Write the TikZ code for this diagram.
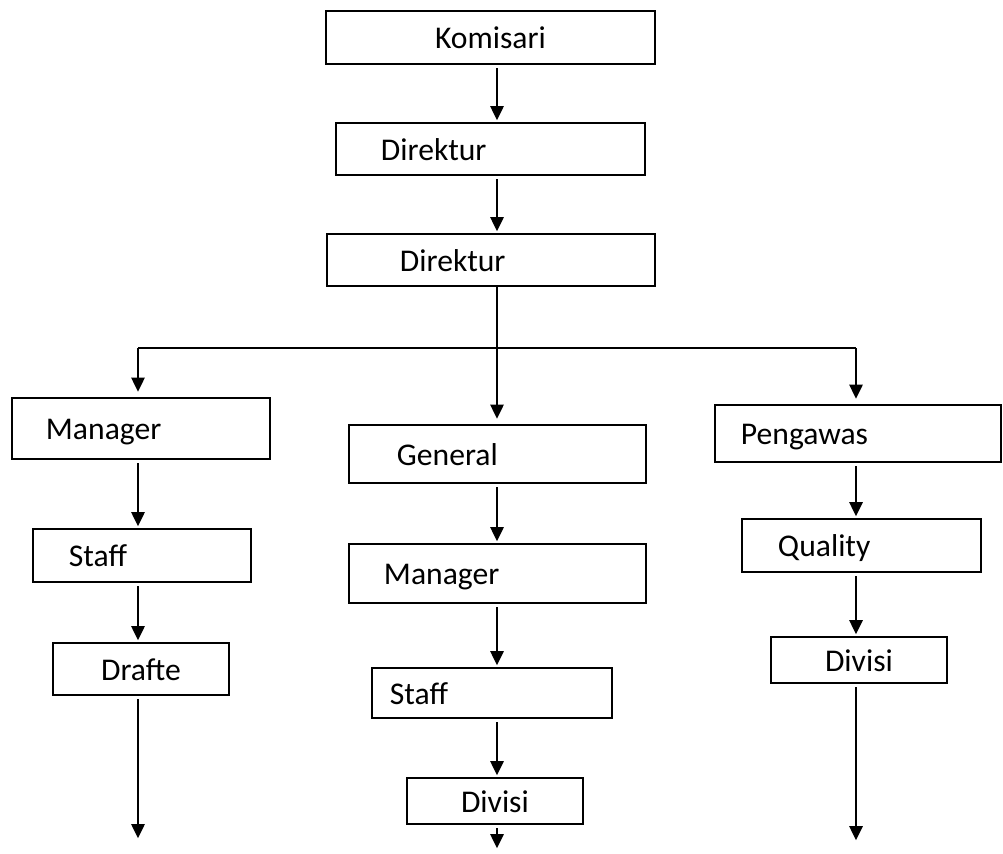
\documentclass[tikz,border=0pt]{standalone}
\usepackage{fontspec}
\setmainfont{Carlito}
\usepackage{tikz}
\usetikzlibrary{arrows.meta}
\tikzstyle{box} = [rectangle, draw=black, line width=1.1pt, inner ysep=0pt, anchor=north west, align=left, text height=13pt, text depth=0pt, font=\fontsize{18}{21}\selectfont]
\tikzstyle{arr} = [-{Triangle[length=8pt,width=7.5pt]}, line width=1.2pt, shorten <=2pt, shorten >=1pt]
\tikzstyle{drop} = [arr, shorten <=0pt, shorten >=3pt]

\begin{document}
\begin{tikzpicture}[x=0.02cm,y=-0.02cm]
\useasboundingbox (0,0) rectangle (1003,853);
\coordinate (colA) at (138,0);
\coordinate (colB) at (497,0);
\coordinate (colC) at (856,0);

% top
\node[box, inner xsep=0pt, minimum width=6.58cm, minimum height=1.06cm, align=center] (kom) at (325,10) {Komisari};
\node[box, inner xsep=0.9cm, text width=4.38cm, minimum height=1.04cm] (dir1) at (335,122) {Direktur};
\node[box, inner xsep=1.46cm, text width=3.64cm, minimum height=1.04cm] (dir2) at (326,233) {Direktur};

% left
\node[box, inner xsep=0.68cm, text width=3.8cm, minimum height=1.22cm] (mgrA) at (11,397) {Manager};
\node[box, inner xsep=0.72cm, text width=2.92cm, minimum height=1.06cm] (stfA) at (32,528) {Staff};
\node[box, inner xsep=0pt, minimum width=3.52cm, minimum height=1.04cm, align=center] (drf) at (52,642) {Drafte};

% middle
\node[box, inner xsep=0.96cm, text width=4.02cm, minimum height=1.16cm] (gen) at (348,424) {General};
\node[box, inner xsep=0.7cm, text width=4.54cm, minimum height=1.18cm] (mgrB) at (348,543) {Manager};
\node[box, inner xsep=0.36cm, text width=4.08cm, minimum height=1.0cm] (stfB) at (371,667) {Staff};
\node[box, inner xsep=0pt, minimum width=3.52cm, minimum height=0.92cm, align=center] (divB) at (406,777) {Divisi};

% right
\node[box, inner xsep=0.52cm, text width=4.68cm, minimum height=1.14cm] (pgw) at (714,404) {Pengawas};
\node[box, inner xsep=0.72cm, text width=3.34cm, minimum height=1.06cm] (qlt) at (741,518) {Quality};
\node[box, inner xsep=0pt, minimum width=3.52cm, minimum height=0.92cm, align=center] (divC) at (770,636) {Divisi};

\coordinate (busL) at (138,348);
\coordinate (busR) at (856,348);
\coordinate (endA) at (138,840);
\coordinate (endB) at (497,850);
\coordinate (endC) at (856,842);

\draw[arr] (kom.south -| colB) -- (dir1.north -| colB);
\draw[arr] (dir1.south -| colB) -- (dir2.north -| colB);
\draw[line width=1.2pt] (busL) -- (busR);
\draw[drop] (dir2.south -| colB) -- (gen.north -| colB);
\draw[drop] (busL) -- (mgrA.north -| colA);
\draw[drop] (busR) -- (pgw.north -| colC);

\draw[arr] (mgrA.south -| colA) -- (stfA.north -| colA);
\draw[arr] (stfA.south -| colA) -- (drf.north -| colA);
\draw[arr] (drf.south -| colA) -- (endA);

\draw[arr] (gen.south -| colB) -- (mgrB.north -| colB);
\draw[arr] (mgrB.south -| colB) -- (stfB.north -| colB);
\draw[arr] (stfB.south -| colB) -- (divB.north -| colB);
\draw[arr] (divB.south -| colB) -- (endB);

\draw[arr] (pgw.south -| colC) -- (qlt.north -| colC);
\draw[arr] (qlt.south -| colC) -- (divC.north -| colC);
\draw[arr] (divC.south -| colC) -- (endC);
\end{tikzpicture}
\end{document}
